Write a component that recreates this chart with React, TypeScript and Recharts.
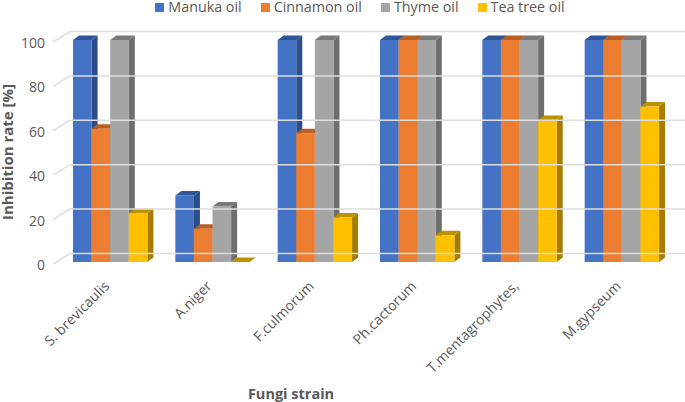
import { Bar, BarChart, Legend, XAxis, YAxis } from 'recharts'

const STRAINS = ['S. brevicaulis', 'A.niger', 'F.culmorum', 'Ph.cactorum', 'T.mentagrophytes,', 'M.gypseum']
const MANUKA = [100, 30, 100, 100, 100, 100]
const CINNAMON = [60, 15, 58, 100, 100, 100]
const THYME = [100, 25, 100, 100, 100, 100]
const TEA_TREE = [22, 0, 20, 12, 64, 70]
const Y_TICKS = [0, 20, 40, 60, 80, 100]

const rows = STRAINS.map((strain, i) => ({
  strain,
  manuka: MANUKA[i],
  cinnamon: CINNAMON[i],
  thyme: THYME[i],
  teaTree: TEA_TREE[i],
}))

const TEXT = '#595959'
const FONT = '"Open Sans", sans-serif'
const DEPTH_X = 6
const DEPTH_Y = 4.5

// fake 3d column: front face, then top and right side
function Prism({ x, y, width, height, fill, side, top }: any) {
  const r = x + width
  const b = y + height
  return (
    <g>
      <polygon
        points={`${r},${y} ${r + DEPTH_X},${y - DEPTH_Y} ${r + DEPTH_X},${b - DEPTH_Y} ${r},${b}`}
        fill={side}
      />
      <polygon
        points={`${x},${y} ${x + DEPTH_X},${y - DEPTH_Y} ${r + DEPTH_X},${y - DEPTH_Y} ${r},${y}`}
        fill={top}
      />
      {height > 0 && <rect x={x} y={y} width={width} height={height} fill={fill} />}
    </g>
  )
}

// back wall gridline hangs off each y tick, so it follows the axis scale
function WallTick({ y, payload }: any) {
  return (
    <g>
      <polyline
        points={`53,${y + 2} 70,${y - 8.5} 685,${y - 8.5}`}
        fill="none"
        stroke="#dedede"
        strokeWidth={1.5}
      />
      <text x={45} y={y + 8} textAnchor="end" fontSize={14} fontFamily={FONT} fill={TEXT}>
        {payload.value}
      </text>
    </g>
  )
}

function StrainTick({ x, y, payload }: any) {
  return (
    <text
      x={x}
      y={y + 17}
      textAnchor="end"
      fontSize={14}
      fontFamily={FONT}
      fill={TEXT}
      transform={`rotate(-45 ${x} ${y + 17})`}
    >
      {payload.value}
    </text>
  )
}

function TopLegend({ payload }: any) {
  return (
    <div
      style={{
        display: 'flex',
        gap: 19,
        fontFamily: FONT,
        fontSize: 14.3,
        color: TEXT,
        lineHeight: '14px',
        justifyContent: 'center',
      }}
    >
      {payload.map((item: any) => (
        <span key={item.value} style={{ display: 'inline-flex', alignItems: 'center', gap: 4 }}>
          <span style={{ width: 9, height: 9, background: item.color, display: 'inline-block' }} />
          {item.value}
        </span>
      ))}
    </div>
  )
}

export default function App() {
  return (
    <div style={{ position: 'absolute', left: 0, top: 0, width: 685, height: 402, background: '#fff' }}>
      <BarChart
        width={685}
        height={402}
        data={rows}
        margin={{ top: 26, right: 12, bottom: 24, left: 0 }}
        barSize={18.6}
        barGap={0}
      >
        <XAxis
          dataKey="strain"
          axisLine={false}
          tickLine={false}
          interval={0}
          height={116}
          tick={StrainTick}
          label={{
            value: 'Fungi strain',
            position: 'insideBottom',
            offset: -21,
            dx: -75,
            fontSize: 14.5,
            fontWeight: 700,
            fontFamily: FONT,
            fill: TEXT,
          }}
        />
        <YAxis
          domain={[0, 100]}
          ticks={Y_TICKS}
          axisLine={false}
          tickLine={false}
          width={59}
          tick={WallTick}
          label={{
            value: 'Inhibition rate [%]',
            angle: -90,
            position: 'insideLeft',
            offset: 8,
            dy: 69,
            fontSize: 15,
            fontWeight: 700,
            fontFamily: FONT,
            fill: TEXT,
          }}
        />
        <Legend
          verticalAlign="top"
          align="center"
          content={TopLegend}
          itemSorter={null}
          wrapperStyle={{ top: 0, left: 0, width: 720 }}
        />
        <Bar
          dataKey="manuka"
          name="Manuka oil"
          fill="#4472C4"
          isAnimationActive={false}
          shape={(p: any) => <Prism {...p} side="#2b4d8b" top="#2f5597" />}
        />
        <Bar
          dataKey="cinnamon"
          name="Cinnamon oil"
          fill="#ED7D31"
          isAnimationActive={false}
          shape={(p: any) => <Prism {...p} side="#ad5a22" top="#b85f25" />}
        />
        <Bar
          dataKey="thyme"
          name="Thyme oil"
          fill="#A5A5A5"
          isAnimationActive={false}
          shape={(p: any) => <Prism {...p} side="#6e6e6e" top="#797979" />}
        />
        <Bar
          dataKey="teaTree"
          name="Tea tree oil"
          fill="#FFC000"
          isAnimationActive={false}
          shape={(p: any) => <Prism {...p} side="#a67c00" top="#bf9000" />}
        />
      </BarChart>
    </div>
  )
}
